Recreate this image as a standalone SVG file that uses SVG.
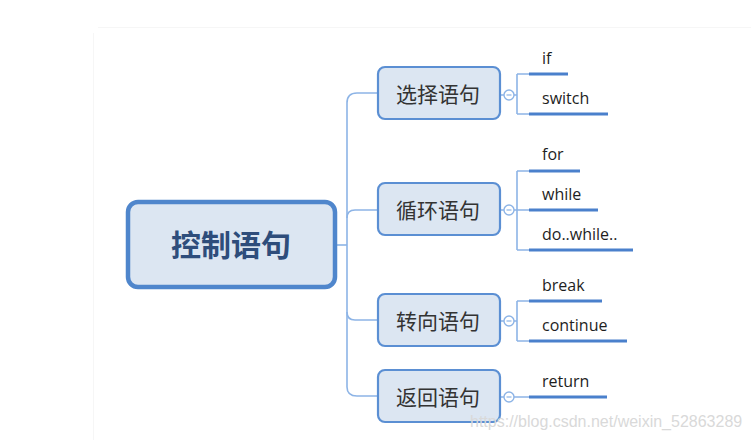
<svg xmlns="http://www.w3.org/2000/svg" width="751" height="440" viewBox="0 0 751 440">
<style>
.bg{fill:#ffffff}
.frame{stroke:#f6f6f6;stroke-width:1;fill:none}
.root rect{fill:#dce6f2;stroke:#4f86cc;stroke-width:4.5}
.root text{font-family:"Noto Sans CJK SC","Noto Sans CJK JP",sans-serif;font-size:30px;font-weight:bold;fill:#2e4d7b;text-anchor:middle}
.topic rect{fill:#dce6f2;stroke:#5b8fd3;stroke-width:2.2}
.topic text{font-family:"Noto Sans CJK SC","Noto Sans CJK JP",sans-serif;font-size:21px;fill:#333333;text-anchor:middle}
.conn{fill:none;stroke:#8db4e6;stroke-width:1.6}
.fold{fill:#ffffff;stroke:#8db4e6;stroke-width:1.4}
.fold-m{stroke:#8db4e6;stroke-width:1.2}
.ul{stroke:#4a80cc;stroke-width:3;stroke-linecap:butt}
.leaf{font-family:"Open Sans","Noto Sans",sans-serif;font-size:16px;fill:#1e1e1e}
.wm{font-family:"Liberation Sans",Arial,sans-serif;font-size:16px;fill:#d9d9d9}
</style>
<rect class="bg" x="0" y="0" width="751" height="440"/>
<path class="frame" d="M93.5,440 V33 M98,27.5 H751"/>

<g id="connectors">
  <path class="conn" d="M337,245 H347"/>
  <path class="conn" d="M378,93 H357 Q347,93 347,103 V387 Q347,396 357,396 H378"/>
  <path class="conn" d="M347,218 Q347,210 355,210 H378"/>
  <path class="conn" d="M347,312 Q347,320 355,320 H378"/>
  <path class="conn" d="M500,95 H504 M514,95 H517 M517,74 V114 M517,74 H529 M517,114 H529"/>
  <path class="conn" d="M500,210 H504 M514,210 H529 M517,171 V250 M517,171 H529 M517,250 H529"/>
  <path class="conn" d="M500,321 H504 M514,321 H517 M517,301 V341 M517,301 H529 M517,341 H529"/>
  <path class="conn" d="M500,397 H504 M514,397 H529"/>
  <g>
    <circle class="fold" cx="509" cy="95" r="5"/><path class="fold-m" d="M506.5,95 H511.5"/>
    <circle class="fold" cx="509" cy="210" r="5"/><path class="fold-m" d="M506.5,210 H511.5"/>
    <circle class="fold" cx="509" cy="321" r="5"/><path class="fold-m" d="M506.5,321 H511.5"/>
    <circle class="fold" cx="509" cy="397" r="5"/><path class="fold-m" d="M506.5,397 H511.5"/>
  </g>
</g>

<g id="root" class="root">
  <rect x="128" y="202" width="207" height="85" rx="10"/>
  <text x="231" y="256">控制语句</text>
</g>

<g id="n-select" class="topic">
  <rect x="378" y="67" width="122" height="52" rx="7"/>
  <text x="438" y="102">选择语句</text>
</g>
<g id="n-loop" class="topic">
  <rect x="378" y="183" width="122" height="52" rx="7"/>
  <text x="438" y="218">循环语句</text>
</g>
<g id="n-jump" class="topic">
  <rect x="378" y="294" width="122" height="52" rx="7"/>
  <text x="438" y="329">转向语句</text>
</g>
<g id="n-return" class="topic">
  <rect x="378" y="370" width="122" height="52" rx="7"/>
  <text x="438" y="405">返回语句</text>
</g>

<g id="l-if"><text class="leaf" x="542" y="64">if</text><path class="ul" d="M529,74 H568"/></g>
<g id="l-switch"><text class="leaf" x="542" y="104">switch</text><path class="ul" d="M529,114 H608"/></g>
<g id="l-for"><text class="leaf" x="542" y="160">for</text><path class="ul" d="M529,171 H580"/></g>
<g id="l-while"><text class="leaf" x="542" y="200">while</text><path class="ul" d="M529,210 H598"/></g>
<g id="l-dowhile"><text class="leaf" x="542" y="240">do..while..</text><path class="ul" d="M529,250 H633"/></g>
<g id="l-break"><text class="leaf" x="542" y="291">break</text><path class="ul" d="M529,301 H602"/></g>
<g id="l-continue"><text class="leaf" x="542" y="331">continue</text><path class="ul" d="M529,341 H627"/></g>
<g id="l-return"><text class="leaf" x="542" y="387">return</text><path class="ul" d="M529,397 H607"/></g>

<text class="wm" x="470" y="427">https://blog.csdn.net/weixin_52863289</text>
</svg>
